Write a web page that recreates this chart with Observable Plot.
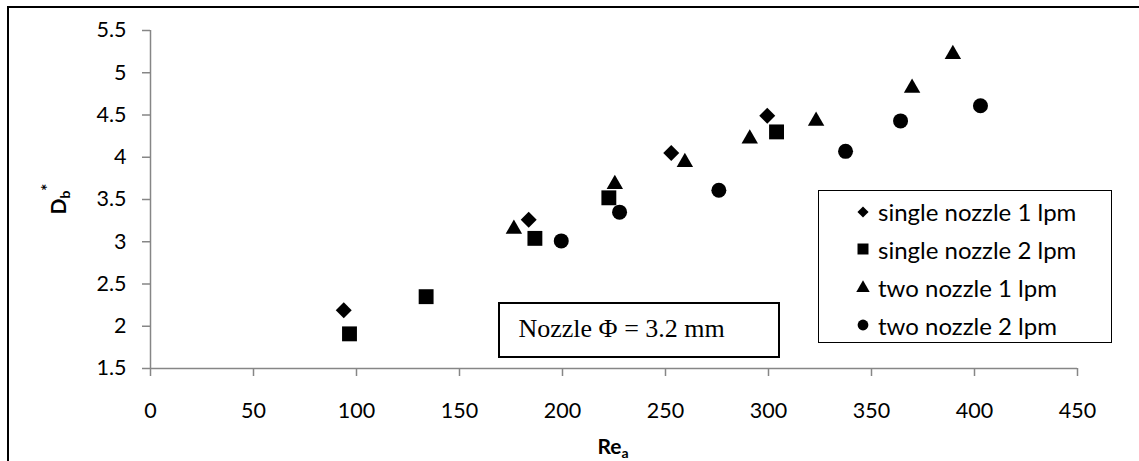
<!DOCTYPE html>
<html><head><meta charset="utf-8">
<script src="https://cdn.jsdelivr.net/npm/d3@7"></script>
<script src="https://cdn.jsdelivr.net/npm/@observablehq/plot@0.6"></script>
<style>
body{margin:0;background:#fff;overflow:hidden}
#wrap{position:relative;width:1139px;height:461px;overflow:hidden;font-family:Lato,"Open Sans",sans-serif;background:#fff}
#frame{position:absolute;left:7px;top:5.5px;width:1150px;height:470px;border:2px solid #000;box-sizing:border-box;pointer-events:none}
#legend{position:absolute;left:818px;top:190px;width:294px;height:153px;border:1.5px solid #000;box-sizing:border-box;background:#fff}
#legend .row{position:absolute;left:0;height:30px;display:flex;align-items:center;white-space:nowrap;font-size:24px;color:#000}
#note{position:absolute;left:497.5px;top:302px;width:282px;height:56px;border:2px solid #000;box-sizing:border-box;background:#fff;font-family:"Liberation Serif","Times New Roman",serif;font-size:26px;color:#000;padding-left:19px;line-height:50px;white-space:nowrap}
</style></head>
<body>
<div id="wrap"></div>
<script>
// ---- data ----
const seriesNames = ["single nozzle 1 lpm", "single nozzle 2 lpm", "two nozzle 1 lpm", "two nozzle 2 lpm"];
const single1Re = [93.8, 183.6, 252.8, 299.4];
const single1Db = [2.19, 3.26, 4.05, 4.49];
const single2Re = [96.6, 133.8, 186.6, 222.5, 303.9];
const single2Db = [1.91, 2.35, 3.04, 3.52, 4.30];
const two1Re = [176.4, 225.4, 259.4, 290.9, 323.1, 369.7, 389.5];
const two1Db = [3.15, 3.68, 3.94, 4.22, 4.43, 4.82, 5.22];
const two2Re = [199.4, 227.7, 275.9, 337.4, 364.1, 402.9];
const two2Db = [3.01, 3.35, 3.61, 4.07, 4.43, 4.61];
const xTicks = [0, 50, 100, 150, 200, 250, 300, 350, 400, 450];
const yTicks = [1.5, 2, 2.5, 3, 3.5, 4, 4.5, 5, 5.5];
const noteText = "Nozzle \u03A6 = 3.2 mm";

const diamondSym = d3.symbolDiamond2 || d3.symbolDiamond;
const symbolObjs = [diamondSym, d3.symbolSquare, d3.symbolTriangle, d3.symbolCircle];
const radii = [7.2, 8.4, 6.1, 7.5];
const legendR = [5.0, 6.2, 5.0, 5.4];
const seriesRe = [single1Re, single2Re, two1Re, two2Re];
const seriesDb = [single1Db, single2Db, two1Db, two2Db];

const tables = seriesNames.map((name, i) => seriesRe[i].map((re, j) => ({series: name, Re: re, Db: seriesDb[i][j]})));

const gray = "#868686";
const plot = Plot.plot({
  width: 1139, height: 461,
  marginLeft: 150, marginRight: 62, marginTop: 30, marginBottom: 93,
  style: {fontFamily: "Lato, 'Open Sans', sans-serif", fontSize: "21.5px", color: "#000", background: "transparent", overflow: "visible"},
  x: {domain: [0, 450], ticks: xTicks},
  y: {domain: [1.5, 5.5], ticks: yTicks},
  marks: [
    Plot.axisX(xTicks, {tickSize: 8, tickPadding: 26, stroke: gray, strokeWidth: 1.5, fill: "#000", label: null, tickFormat: d => String(d)}),
    Plot.axisY(yTicks, {tickSize: 8, tickPadding: 16, stroke: gray, strokeWidth: 1.5, fill: "#000", label: null, tickFormat: d => String(d)}),
    Plot.ruleX([0], {stroke: gray, strokeWidth: 1.5}),
    Plot.ruleY([1.5], {stroke: gray, strokeWidth: 1.5}),
    ...tables.map((t, i) => Plot.dot(t, {x: "Re", y: "Db", symbol: symbolObjs[i], r: radii[i], fill: "#000", stroke: "none"}))
  ]
});

const wrap = document.getElementById("wrap");
wrap.appendChild(plot);

const svg = d3.select(plot);
// axis titles
const yt = svg.append("text")
  .attr("transform", "translate(66,199) rotate(-90)")
  .attr("text-anchor", "middle")
  .attr("font-family", "Lato, sans-serif")
  .attr("font-weight", "bold")
  .attr("font-size", 21)
  .attr("fill", "#000");
yt.append("tspan").text("D");
yt.append("tspan").attr("dy", "0.3em").attr("font-size", 14).text("b");
yt.append("tspan").attr("dy", "-0.95em").attr("font-size", 17).text("*");

const xt = svg.append("text")
  .attr("x", 613).attr("y", 454)
  .attr("text-anchor", "middle")
  .attr("font-family", "Lato, sans-serif")
  .attr("font-weight", "bold")
  .attr("font-size", 21)
  .attr("fill", "#000");
xt.append("tspan").text("Re");
xt.append("tspan").attr("dy", "0.3em").attr("font-size", 14).text("a");

// frame
const frame = document.createElement("div");
frame.id = "frame";
wrap.appendChild(frame);

// legend
const legend = d3.select(wrap).append("div").attr("id", "legend");
const rowCenters = [20.7, 58.3, 96.7, 134];
seriesNames.forEach((name, i) => {
  const row = legend.append("div").attr("class", "row").style("top", (rowCenters[i] - 15) + "px").style("left", "34px");
  const s = row.append("svg").attr("width", 20).attr("height", 20).style("margin-right", "5px");
  s.append("path").attr("transform", "translate(10,10)")
    .attr("d", d3.symbol(symbolObjs[i], Math.PI * legendR[i] * legendR[i])())
    .attr("fill", "#000");
  row.append("span").text(name);
});

// annotation box
d3.select(wrap).append("div").attr("id", "note").text(noteText);
</script>
</body></html>
